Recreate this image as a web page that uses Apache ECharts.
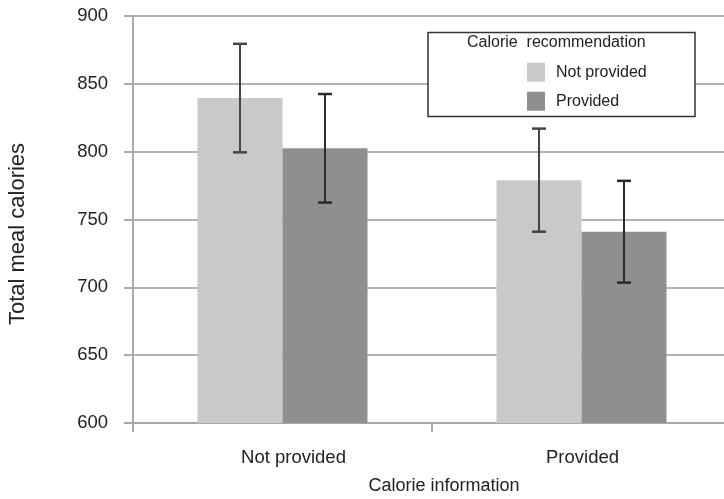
<!DOCTYPE html>
<html>
<head>
<meta charset="utf-8">
<script src="https://cdn.jsdelivr.net/npm/echarts@6/dist/echarts.min.js"></script>
<style>
html,body{margin:0;padding:0;background:#fff;}
#main{width:724px;height:499px;}
</style>
</head>
<body>
<div id="main"></div>
<script>
var categories = ['Not provided', 'Provided'];
var seriesNames = ['Not provided', 'Provided'];
var notProvidedMeans = [839.5, 779];
var notProvidedErrors = [40, 38];
var providedMeans = [802.5, 741];
var providedErrors = [40, 37.5];
var yTicks = [600, 650, 700, 750, 800, 850, 900];

var BAR_W = 85;
var FONT = '"Liberation Sans", Arial, Helvetica, sans-serif';
var labelPads = [[0, 0, 0, 22], [0, 0, 0, 2]];

function errData(means, errs) {
  return means.map(function (m, i) { return [i, m - errs[i], m + errs[i]]; });
}
function errSeries(means, errs, sign, color) {
  return {
    type: 'custom',
    data: errData(means, errs),
    encode: { x: 0, y: [1, 2] },
    z: 5,
    silent: true,
    renderItem: function (params, api) {
      var lo = api.coord([api.value(0), api.value(1)]);
      var hi = api.coord([api.value(0), api.value(2)]);
      var x = lo[0] + sign * BAR_W / 2;
      var cw = 7;
      var st = { stroke: color, lineWidth: 2 };
      return {
        type: 'group',
        children: [
          { type: 'line', shape: { x1: x, y1: lo[1], x2: x, y2: hi[1] }, style: st },
          { type: 'line', shape: { x1: x - cw, y1: lo[1], x2: x + cw, y2: lo[1] }, style: { stroke: color, lineWidth: 2.5 } },
          { type: 'line', shape: { x1: x - cw, y1: hi[1], x2: x + cw, y2: hi[1] }, style: { stroke: color, lineWidth: 2.5 } }
        ]
      };
    }
  };
}

var chart = echarts.init(document.getElementById('main'));
var axisGray = '#a9a9a9';
chart.setOption({
  animation: false,
  backgroundColor: '#fff',
  textStyle: { fontFamily: FONT },
  grid: { left: 133, width: 598, top: 16, bottom: 76, containLabel: false, outerBoundsMode: 'none' },
  xAxis: {
    type: 'category',
    data: categories.map(function (c, i) { return { value: c, textStyle: { padding: labelPads[i] } }; }),
    name: 'Calorie information',
    nameLocation: 'middle',
    nameGap: 54,
    nameTextStyle: { fontSize: 18, color: '#222', fontFamily: FONT, padding: [0, 0, 0, 24] },
    axisLine: { show: true, lineStyle: { color: axisGray, width: 2 } },
    axisTick: { show: true, length: 9, interval: 0, lineStyle: { color: axisGray, width: 2 } },
    axisLabel: { fontSize: 18.5, color: '#222', margin: 25, fontFamily: FONT },
    splitLine: { show: false }
  },
  yAxis: {
    type: 'value',
    min: yTicks[0],
    max: yTicks[yTicks.length - 1],
    interval: 50,
    name: 'Total meal calories',
    nameLocation: 'middle',
    nameGap: 104,
    nameTextStyle: { fontSize: 22, color: '#222', fontFamily: FONT, padding: [0, 29, 0, 0] },
    axisLine: { show: true, lineStyle: { color: axisGray, width: 2 } },
    axisTick: { show: true, length: 9, lineStyle: { color: axisGray, width: 2 } },
    axisLabel: { fontSize: 18.5, color: '#222', margin: 25, fontFamily: FONT },
    splitLine: { show: true, lineStyle: { color: '#b3b3b3', width: 2 } }
  },
  legend: {
    orient: 'vertical',
    left: 527,
    top: 60.7,
    padding: 0,
    itemWidth: 18,
    itemHeight: 19,
    itemGap: 6,
    z: 60,
    data: seriesNames,
    textStyle: { fontSize: 16, lineHeight: 16, color: '#222', fontFamily: FONT, padding: [7, 0, 0, 6] },
    icon: 'rect'
  },
  graphic: [
    { type: 'rect', z: 50, shape: { x: 428, y: 32.5, width: 267, height: 84 },
      style: { fill: '#fff', stroke: '#333', lineWidth: 1.5 } },
    { type: 'text', z: 60, left: 467, top: 35,
      style: { text: 'Calorie  recommendation', fontSize: 16, fill: '#222', fontFamily: FONT } }
  ],
  series: [
    { name: seriesNames[0], type: 'bar', data: notProvidedMeans, barWidth: BAR_W, barGap: '0%',
      itemStyle: { color: '#c9c9c9' }, z: 3 },
    { name: seriesNames[1], type: 'bar', data: providedMeans, barWidth: BAR_W, barGap: '0%',
      itemStyle: { color: '#8f8f8f' }, z: 3 },
    errSeries(notProvidedMeans, notProvidedErrors, -1, '#444'),
    errSeries(providedMeans, providedErrors, 1, '#2a2a2a')
  ]
});
</script>
</body>
</html>
